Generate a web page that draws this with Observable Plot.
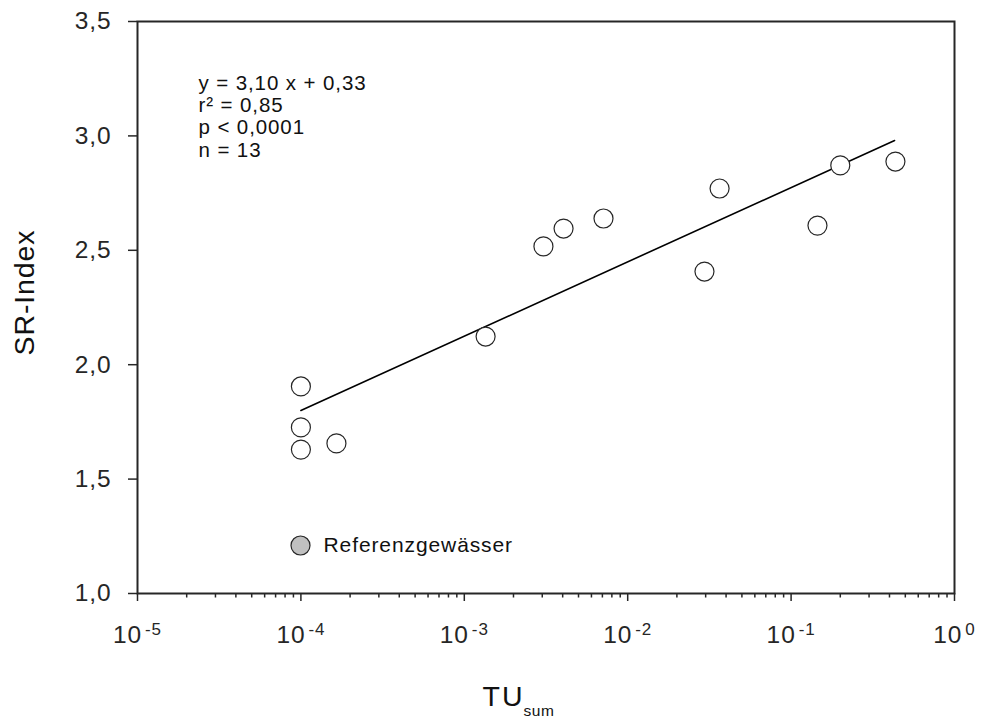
<!DOCTYPE html>
<html>
<head>
<meta charset="utf-8">
<script src="https://cdn.jsdelivr.net/npm/d3@7"></script>
<script src="https://cdn.jsdelivr.net/npm/@observablehq/plot@0.6"></script>
<style>
  html, body { margin: 0; padding: 0; background: #fff; }
  #chart svg { display: block; font-family: "Liberation Sans", Arial, sans-serif; }
</style>
</head>
<body>
<div id="chart"></div>
<script>
// Data
const tuSum   = [1e-4, 1e-4, 1e-4, 1.65e-4, 1.35e-3, 3.05e-3, 4.05e-3, 7.11e-3, 0.0295, 0.0365, 0.145, 0.200, 0.435];
const srIndex = [1.905, 1.726, 1.629, 1.656, 2.123, 2.517, 2.595, 2.639, 2.407, 2.770, 2.608, 2.871, 2.888];

// Regression line end points
const fitX = [1e-4, 0.43];
const fitY = [1.80, 2.98];

// Axis ticks
const yTicks = [1.0, 1.5, 2.0, 2.5, 3.0, 3.5];
const xMajorTicks = [1e-5, 1e-4, 1e-3, 1e-2, 1e-1, 1e0];
const xMinorTicks = [];
for (let k = -5; k < 0; k++) for (let m = 2; m <= 9; m++) xMinorTicks.push(m * Math.pow(10, k));

// Texts
const statsText = ["y = 3,10 x + 0,33", "r² = 0,85", "p < 0,0001", "n = 13"];
const legendLabel = ["Referenzgewässer"];
const yTitle = ["SR-Index"];
const xTitle = ["TU"];
const xTitleSub = "sum";

const points = tuSum.map((x, i) => ({x, y: srIndex[i]}));
const fit = fitX.map((x, i) => ({x, y: fitY[i]}));

const ink = "#262626";

const chart = Plot.plot({
  width: 981,
  height: 717,
  marginLeft: 137,
  marginRight: 27,
  marginTop: 21,
  marginBottom: 124,
  style: {fontFamily: '"Liberation Sans", Arial, sans-serif', color: ink, background: "#fff"},
  x: {type: "log", domain: [1e-5, 1], axis: null},
  y: {domain: [1.0, 3.5], axis: null},
  marks: [
    Plot.axisY({ticks: yTicks, tickSize: 9, tickPadding: 17, fontSize: 24.5, strokeWidth: 1.5,
      tickFormat: d => d.toFixed(1).replace(".", ","), label: null}),
    Plot.axisX({ticks: xMinorTicks, tickSize: 4.5, text: null, label: null, strokeWidth: 1.5}),
    Plot.axisX({ticks: xMajorTicks, tickSize: 8, tickPadding: 24, fontSize: 24.5, strokeWidth: 1.5,
      tickFormat: d => "10^" + Math.round(Math.log10(d)), label: null}),
    Plot.frame({stroke: ink, strokeWidth: 2}),
    Plot.line(fit, {x: "x", y: "y", stroke: "#000", strokeWidth: 1.6}),
    Plot.dot(points, {x: "x", y: "y", r: 9.5, fill: "#fff", stroke: ink, strokeWidth: 1.2}),
    // statistics annotation
    Plot.text([statsText.join("\n")], {frameAnchor: "top-left", dx: 61, dy: 53, textAnchor: "start",
      lineAnchor: "top", lineHeight: 1.08, fontSize: 20.5, fill: "#111"}),
    // legend
    Plot.dot([0], {frameAnchor: "bottom-left", dx: 163, dy: -48, r: 9.5, fill: "#c0c0c0", stroke: ink, strokeWidth: 1.2}),
    Plot.text(legendLabel, {frameAnchor: "bottom-left", dx: 186, dy: -48, textAnchor: "start",
      lineAnchor: "middle", fontSize: 21, fill: "#111"}),
    // axis titles
    Plot.text(yTitle, {frameAnchor: "left", dx: -104, dy: -15, rotate: -90, fontSize: 28.5, fill: "#111",
      lineAnchor: "bottom", textAnchor: "middle"}),
    Plot.text(xTitle, {frameAnchor: "bottom-left", dx: 345, dy: 112, fontSize: 28.5, fill: "#111",
      textAnchor: "start", lineAnchor: "bottom"})
  ]
});

const svg = d3.select(chart);
// letter spacing similar to the reference rendering
svg.selectAll("text").attr("letter-spacing", "0.9px");

// superscript exponents on the x tick labels
svg.selectAll('g[aria-label="x-axis tick label"] text').each(function() {
  const t = d3.select(this);
  const s = t.text();
  if (!s.includes("^")) return;
  const [base, exp] = s.split("^");
  t.text(null);
  t.append("tspan").text(base);
  t.append("tspan").attr("dx", 3).attr("dy", -8).attr("font-size", 17).text(exp);
});
// subscript on the x title
svg.selectAll("text").filter(function() { return this.textContent === "TU"; }).each(function() {
  d3.select(this).attr("letter-spacing", "2px");
  d3.select(this).append("tspan").attr("dx", -1).attr("dy", 10).attr("font-size", 15.5)
    .attr("letter-spacing", "0.6px").text(xTitleSub);
});

document.getElementById("chart").appendChild(chart);
</script>
</body>
</html>
